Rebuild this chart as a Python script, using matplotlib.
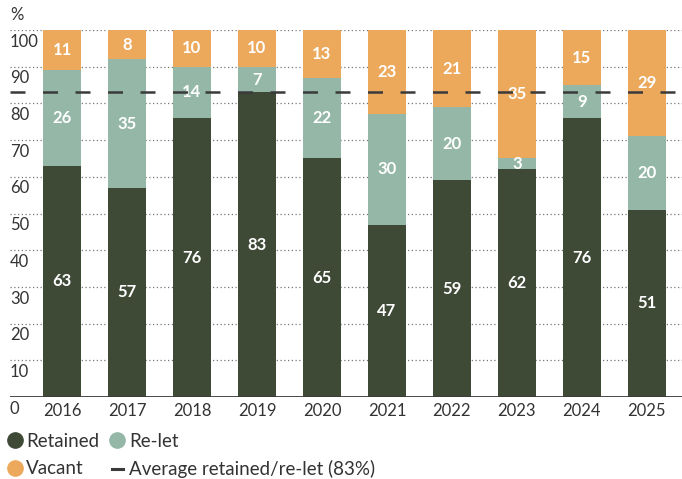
import matplotlib
matplotlib.use("Agg")
import matplotlib.pyplot as plt
from matplotlib.lines import Line2D
import numpy as np

plt.rcParams['font.family'] = ['Lato', 'DejaVu Sans']

years = ["2016", "2017", "2018", "2019", "2020", "2021", "2022", "2023", "2024", "2025"]
retained = [63, 57, 76, 83, 65, 47, 59, 62, 76, 51]
relet = [26, 35, 14, 7, 22, 30, 20, 3, 9, 20]
vacant = [11, 8, 10, 10, 13, 23, 21, 35, 15, 29]
average = 83
yticks = [0, 10, 20, 30, 40, 50, 60, 70, 80, 90, 100]

c_ret = "#3e4a36"
c_rel = "#95b7a8"
c_vac = "#eca95c"
c_txt = "#333333"

fig = plt.figure(figsize=(6.82, 4.79), dpi=100)
W, H = 682, 479
ax = fig.add_axes([10 / W, (H - 397) / H, 672 / W, (397 - 30) / H])

x = np.arange(len(years))
bw = 0.585
ret = np.array(retained)
rel = np.array(relet)
vac = np.array(vacant)

ax.bar(x, ret, bw, color=c_ret, zorder=2)
ax.bar(x, rel, bw, bottom=ret, color=c_rel, zorder=2)
ax.bar(x, vac, bw, bottom=ret + rel, color=c_vac, zorder=2)

for i in range(len(years)):
    segs = [(0, ret[i]), (ret[i], rel[i]), (ret[i] + rel[i], vac[i])]
    for b, v in segs:
        ax.text(x[i], b + v / 2, f"{v}", ha="center", va="center",
                color="white", fontsize=12, fontweight="bold", zorder=4)

# dotted gridlines with labels sitting just under each line
for t in yticks[1:]:
    ax.axhline(t, color="#777777", lw=0.9, ls=(0, (1, 2)), zorder=1)
for t in yticks:
    ax.text(-0.8, t - 1.0, f"{t}", ha="left", va="top", fontsize=12,
            color=c_txt, zorder=3)
ax.text(-0.8, 104.2, "%", ha="left", va="center", fontsize=12, color=c_txt)

ax.axhline(0, color="#3a3a3a", lw=1.3, zorder=3)
ax.axhline(average, color="#3a3a3a", lw=1.8, dashes=(6, 7), zorder=5)

ax.set_xlim(-0.8, 9.54)
ax.set_ylim(0, 100)
ax.set_yticks([])
ax.set_xticks(x)
ax.set_xticklabels(years, fontsize=12, color=c_txt)
ax.tick_params(axis="x", length=0, pad=4)
for s in ax.spines.values():
    s.set_visible(False)
ax.set_clip_on(False)

handles = [
    Line2D([], [], marker="o", ls="none", markersize=11, color=c_ret, label="Retained"),
    Line2D([], [], marker="o", ls="none", markersize=11, color=c_vac, label="Vacant"),
    Line2D([], [], marker="o", ls="none", markersize=11, color=c_rel, label="Re-let"),
    Line2D([], [], color="#3a3a3a", lw=2.2, label="Average retained/re-let (83%)"),
]
fig.legend(handles=handles, ncol=2, loc="upper left",
           bbox_to_anchor=(9 / W, 1 - 433 / H), frameon=False, fontsize=13.5,
           labelcolor=c_txt, handlelength=0.62, handletextpad=0.3,
           columnspacing=0.65, labelspacing=0.55, borderaxespad=0, borderpad=0)

fig.savefig("out.png", dpi=100)
